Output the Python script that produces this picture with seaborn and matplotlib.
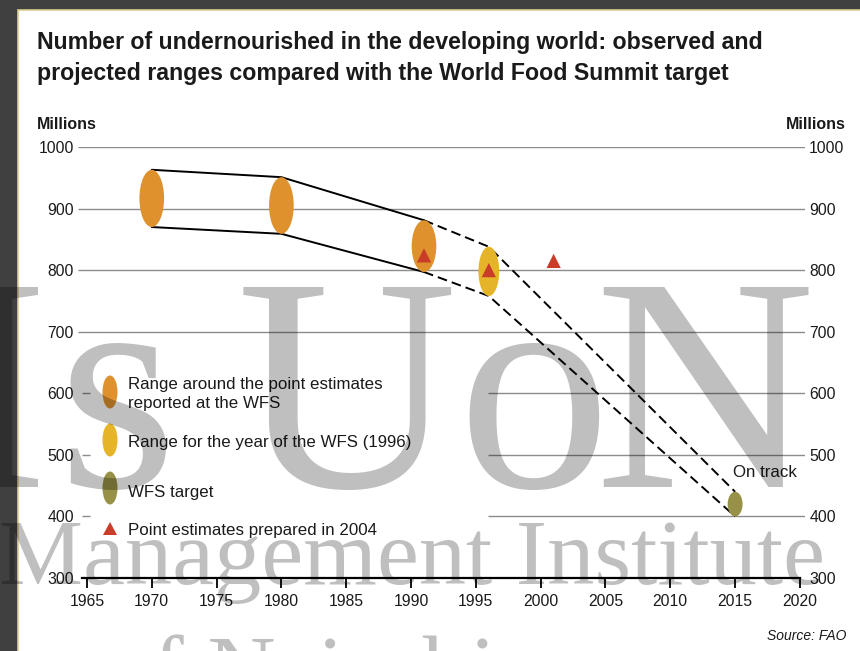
import matplotlib
matplotlib.use("Agg")
import matplotlib.pyplot as plt
from matplotlib.patches import Ellipse, Rectangle, PathPatch
from matplotlib.path import Path
from matplotlib.transforms import Affine2D
import pandas as pd
import seaborn as sns

# ranges of the number of undernourished (millions)
range_years = [1970, 1980, 1991, 1996, 2015]
range_low = [870, 859, 797, 758, 400]
range_high = [963, 951, 881, 838, 440]
range_kind = ["wfs", "wfs", "wfs", "year", "target"]

# point estimates prepared in 2004
est_years = [1991, 1996, 2001]
est_values = [824, 800, 815]

# observed part of the band ends at 1991, projected part starts there
band_split = 1991

x_ticks = list(range(1965, 2021, 5))
y_ticks = [300, 400, 500, 600, 700, 800, 900, 1000]
grid_full = [700, 800, 900, 1000]
grid_broken = [400, 500, 600]

title_lines = [
    "Number of undernourished in the developing world: observed and",
    "projected ranges compared with the World Food Summit target",
]
legend_labels = [
    "Range around the point estimates\nreported at the WFS",
    "Range for the year of the WFS (1996)",
    "WFS target",
    "Point estimates prepared in 2004",
]

colors = {"wfs": "#DE912D", "year": "#E6B428", "target": "#969146"}
widths = {"wfs": 1.9, "year": 1.6, "target": 1.15}
red = "#C83C28"
ink = "#1a1a1a"

W, H = 860, 651

sns.set_style("white")
plt.rcParams["font.family"] = ["Liberation Sans", "DejaVu Sans"]

fig = plt.figure(figsize=(W / 100, H / 100), dpi=100, facecolor="#404040")
# transform in image pixels (origin top left)
img = Affine2D().scale(1 / W, -1 / H).translate(0, 1) + fig.transFigure

page = Rectangle((18, 10), W, H, transform=img, facecolor="white",
                 edgecolor="#d9cd92", lw=1.2, zorder=-3)
fig.add_artist(page)

ax = fig.add_axes([78 / W, 1 - 578 / H, 727 / W, 431 / H])
ax.set_facecolor("none")
x0, x1 = 1964.31, 2020.39
ax.set_xlim(x0, x1)
ax.set_ylim(300, 1000)

grid_kw = dict(color="#8c8c8c", lw=1.0, zorder=1)
ax.hlines(grid_full, x0, x1, **grid_kw)
ax.hlines(grid_broken, 1964.61, 1965.23, **grid_kw)
ax.hlines(grid_broken, 1995.9, x1, **grid_kw)

# band edges: solid for the observed part, dashed for the projection
rows = []
for yr, lo, hi in zip(range_years, range_low, range_high):
    for edge, val in (("upper", hi), ("lower", lo)):
        if yr <= band_split:
            rows.append({"year": yr, "value": val, "edge": edge + "_obs", "kind": "observed"})
        if yr >= band_split:
            rows.append({"year": yr, "value": val, "edge": edge + "_proj", "kind": "projected"})
edges = pd.DataFrame(rows)
sns.lineplot(data=edges, x="year", y="value", units="edge", estimator=None,
             style="kind", dashes={"observed": "", "projected": (5, 2.6)},
             color="black", lw=1.4, legend=False, ax=ax, zorder=2)

for yr, lo, hi, kind in zip(range_years, range_low, range_high, range_kind):
    ax.add_patch(Ellipse((yr, (lo + hi) / 2), widths[kind], hi - lo,
                         facecolor=colors[kind], edgecolor="none", zorder=3))

sns.scatterplot(x=est_years, y=est_values, marker="^", s=105, color=red,
                edgecolor="none", ax=ax, zorder=4)

ax.set_xlabel("")
ax.set_ylabel("")
ax.set_xticks(x_ticks)
ax.set_yticks(y_ticks)
ax.tick_params(axis="x", bottom=True, direction="out", length=7.5, width=1.3,
               pad=4, labelsize=11.3, color="black", labelcolor=ink)
ax.tick_params(axis="y", left=False, right=False, length=0, pad=3,
               labelsize=11.3, labelleft=True, labelright=True, labelcolor=ink)
for s in ("left", "right", "top"):
    ax.spines[s].set_visible(False)
ax.spines["bottom"].set_bounds(1964.6, 2020)
ax.spines["bottom"].set_linewidth(1.6)
ax.spines["bottom"].set_color("black")

ax.text(733, 477, "On track", transform=img, fontsize=12.2, color=ink)

# titles and units
for k, line in enumerate(title_lines):
    fig.text(37, 49 + 31 * k, line, transform=img, fontsize=16.7,
             fontweight="bold", color=ink, va="baseline")
fig.text(37, 129, "Millions", transform=img, fontsize=11.5, fontweight="bold",
         color=ink, va="baseline")
fig.text(846, 129, "Millions", transform=img, fontsize=11.5, fontweight="bold",
         color=ink, va="baseline", ha="right")
fig.text(846, 640, "Source: FAO", transform=img, fontsize=10, style="italic",
         color=ink, va="baseline", ha="right")

# legend
leg_colors = [colors["wfs"], colors["year"], colors["target"]]
leg_centres = [392, 440, 488]
for c, cy in zip(leg_colors, leg_centres):
    fig.add_artist(Ellipse((110, cy), 15, 33, transform=img,
                           facecolor=c, edgecolor="none", zorder=2))
tri = Path([(103, 535), (117, 535), (110, 522), (103, 535)])
fig.add_artist(PathPatch(tri, transform=img, facecolor=red,
                         edgecolor="none", zorder=2))
leg_baselines = [389, 447, 497, 535]
for lab, by in zip(legend_labels, leg_baselines):
    for k, line in enumerate(lab.split("\n")):
        fig.text(128, by + 19 * k, line, transform=img, fontsize=12.2,
                 color=ink, va="baseline", zorder=2)

# watermark on top (darkening)
wm = dict(transform=img, color="black", alpha=0.25, family="Liberation Serif",
          va="baseline", zorder=10)
for ch, x in (("I", -53), ("s", 58), ("U", 237), ("o", 457), ("N", 594)):
    fig.text(x, 487, ch, fontsize=220, **wm)
fig.text(-1, 584, "Management Institute", fontsize=68, **wm)
fig.text(105, 700, "of Nairobi", fontsize=68, **wm)

fig.savefig("out.png", dpi=100, facecolor=fig.get_facecolor())
